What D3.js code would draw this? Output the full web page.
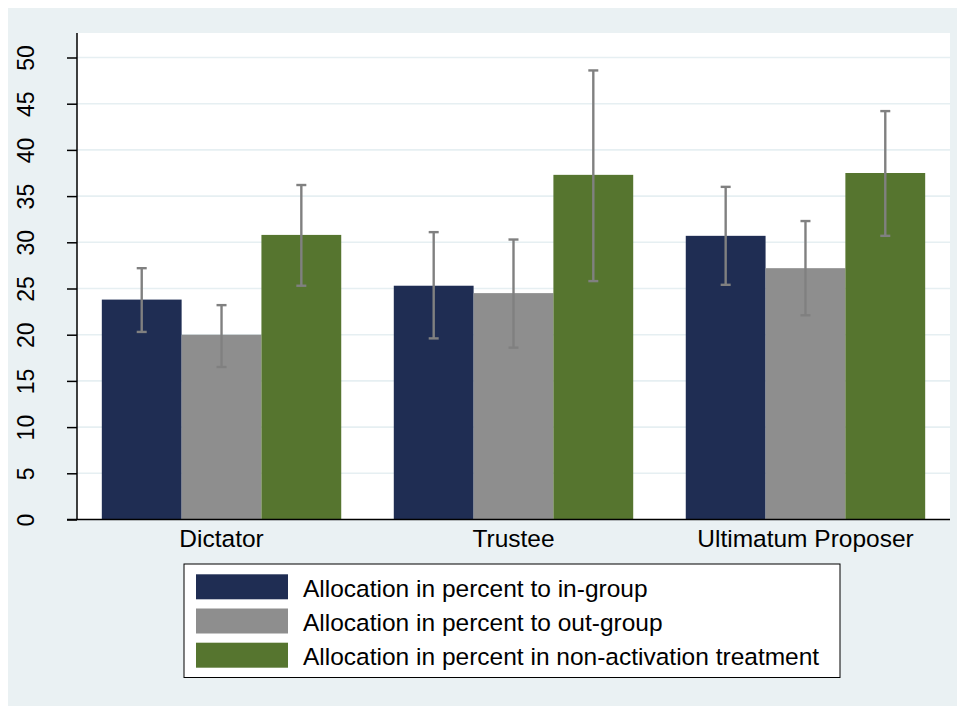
<!DOCTYPE html>
<html>
<head>
<meta charset="utf-8">
<script src="https://cdn.jsdelivr.net/npm/d3@7"></script>
<style>
  html, body { margin: 0; padding: 0; background: #ffffff; }
  svg { display: block; font-family: "Liberation Sans", Arial, sans-serif; }
</style>
</head>
<body>
<svg id="chart" width="965" height="706"></svg>
<script>
// ---- data ----
const categories = ["Dictator", "Trustee", "Ultimatum Proposer"];
const seriesNames = [
  "Allocation in percent to in-group",
  "Allocation in percent to out-group",
  "Allocation in percent in non-activation treatment"
];
const inGroup    = [23.8, 25.3, 30.7];
const inGroupLo  = [20.3, 19.6, 25.4];
const inGroupHi  = [27.2, 31.1, 36.0];
const outGroup   = [20.0, 24.5, 27.2];
const outGroupLo = [16.5, 18.6, 22.1];
const outGroupHi = [23.2, 30.3, 32.3];
const nonAct     = [30.8, 37.3, 37.5];
const nonActLo   = [25.3, 25.8, 30.7];
const nonActHi   = [36.2, 48.6, 44.2];
const yTicks = [0, 5, 10, 15, 20, 25, 30, 35, 40, 45, 50];
const colors = ["#1f2d53", "#8e8e8e", "#56752f"];

const series = [
  { name: seriesNames[0], values: inGroup,  lo: inGroupLo,  hi: inGroupHi },
  { name: seriesNames[1], values: outGroup, lo: outGroupLo, hi: outGroupHi },
  { name: seriesNames[2], values: nonAct,   lo: nonActLo,   hi: nonActHi }
];

const svg = d3.select("#chart");
const W = 965, H = 706;
const plot = { left: 77, right: 950, top: 33, bottom: 519.5 };

// outer background
svg.append("rect").attr("x", 8).attr("y", 8).attr("width", W - 16).attr("height", H - 8)
  .attr("fill", "#eaf1f3");
// plot region
svg.append("rect").attr("x", plot.left).attr("y", plot.top)
  .attr("width", plot.right - plot.left).attr("height", plot.bottom - plot.top)
  .attr("fill", "#ffffff");

const y = d3.scaleLinear().domain([0, 50]).range([plot.bottom, 57.5]);
const x0 = d3.scaleBand().domain(categories).range([plot.left, plot.right])
  .paddingInner(0.18).paddingOuter(0.085);
const x1 = d3.scaleBand().domain(d3.range(series.length)).range([0, x0.bandwidth()]);

// gridlines
svg.append("g").selectAll("line").data(yTicks.filter(d => d > 0)).join("line")
  .attr("x1", plot.left).attr("x2", plot.right)
  .attr("y1", d => y(d)).attr("y2", d => y(d))
  .attr("stroke", "#e6eff2").attr("stroke-width", 1.6);

// bars
const groups = svg.append("g").selectAll("g").data(categories).join("g")
  .attr("transform", d => `translate(${x0(d)},0)`);

series.forEach((s, si) => {
  groups.append("rect")
    .attr("x", x1(si))
    .attr("width", x1.bandwidth())
    .attr("y", (d, i) => y(s.values[i]))
    .attr("height", (d, i) => y(0) - y(s.values[i]))
    .attr("fill", colors[si]);
});

// error bars
const capW = 10;
series.forEach((s, si) => {
  const g = groups.append("g").attr("stroke", "#808080").attr("stroke-width", 2.4);
  const cx = x1(si) + x1.bandwidth() / 2;
  g.append("line").attr("x1", cx).attr("x2", cx)
    .attr("y1", (d, i) => y(s.lo[i])).attr("y2", (d, i) => y(s.hi[i]));
  g.append("line").attr("x1", cx - capW / 2).attr("x2", cx + capW / 2)
    .attr("y1", (d, i) => y(s.hi[i])).attr("y2", (d, i) => y(s.hi[i]));
  g.append("line").attr("x1", cx - capW / 2).attr("x2", cx + capW / 2)
    .attr("y1", (d, i) => y(s.lo[i])).attr("y2", (d, i) => y(s.lo[i]));
});

// y axis
const yAxis = svg.append("g").attr("transform", `translate(${plot.left},0)`)
  .call(d3.axisLeft(y).tickValues(yTicks).tickSize(10).tickSizeOuter(0));
yAxis.attr("font-size", null).attr("font-family", null);
yAxis.select(".domain").attr("d", `M0,${plot.top}V${plot.bottom}`)
  .attr("stroke", "#000").attr("stroke-width", 1.5);
yAxis.selectAll(".tick line").attr("stroke", "#000").attr("stroke-width", 1.5);
yAxis.selectAll(".tick text")
  .attr("x", null).attr("dy", null)
  .attr("transform", "translate(-43,0) rotate(-90)")
  .attr("text-anchor", "middle")
  .attr("fill", "#000")
  .style("font-size", "23px")
  .style("font-family", "'Liberation Sans', Arial, sans-serif");

// x axis
const xAxis = svg.append("g").attr("transform", `translate(0,${plot.bottom})`)
  .call(d3.axisBottom(x0).tickSize(0).tickSizeOuter(0).tickPadding(0));
xAxis.attr("font-size", null).attr("font-family", null);
xAxis.select(".domain").attr("d", `M${plot.left - 10},0H${plot.right}`)
  .attr("stroke", "#000").attr("stroke-width", 1.5);
xAxis.selectAll(".tick text")
  .attr("y", 27).attr("dy", null)
  .attr("fill", "#000")
  .style("font-size", "24.5px")
  .style("font-family", "'Liberation Sans', Arial, sans-serif");

// legend
const leg = svg.append("g");
leg.append("rect").attr("x", 184).attr("y", 564).attr("width", 656).attr("height", 113.5)
  .attr("fill", "#fff").attr("stroke", "#000").attr("stroke-width", 1);
const rows = leg.selectAll("g.row").data(series).join("g").attr("class", "row")
  .attr("transform", (d, i) => `translate(196,${574.3 + i * 34.2})`);
rows.append("rect").attr("width", 92).attr("height", 25)
  .attr("fill", (d, i) => colors[i]);
rows.append("text").attr("x", 107).attr("y", 22.5)
  .style("font-size", "24.5px").attr("fill", "#000")
  .text(d => d.name);
</script>
</body>
</html>
